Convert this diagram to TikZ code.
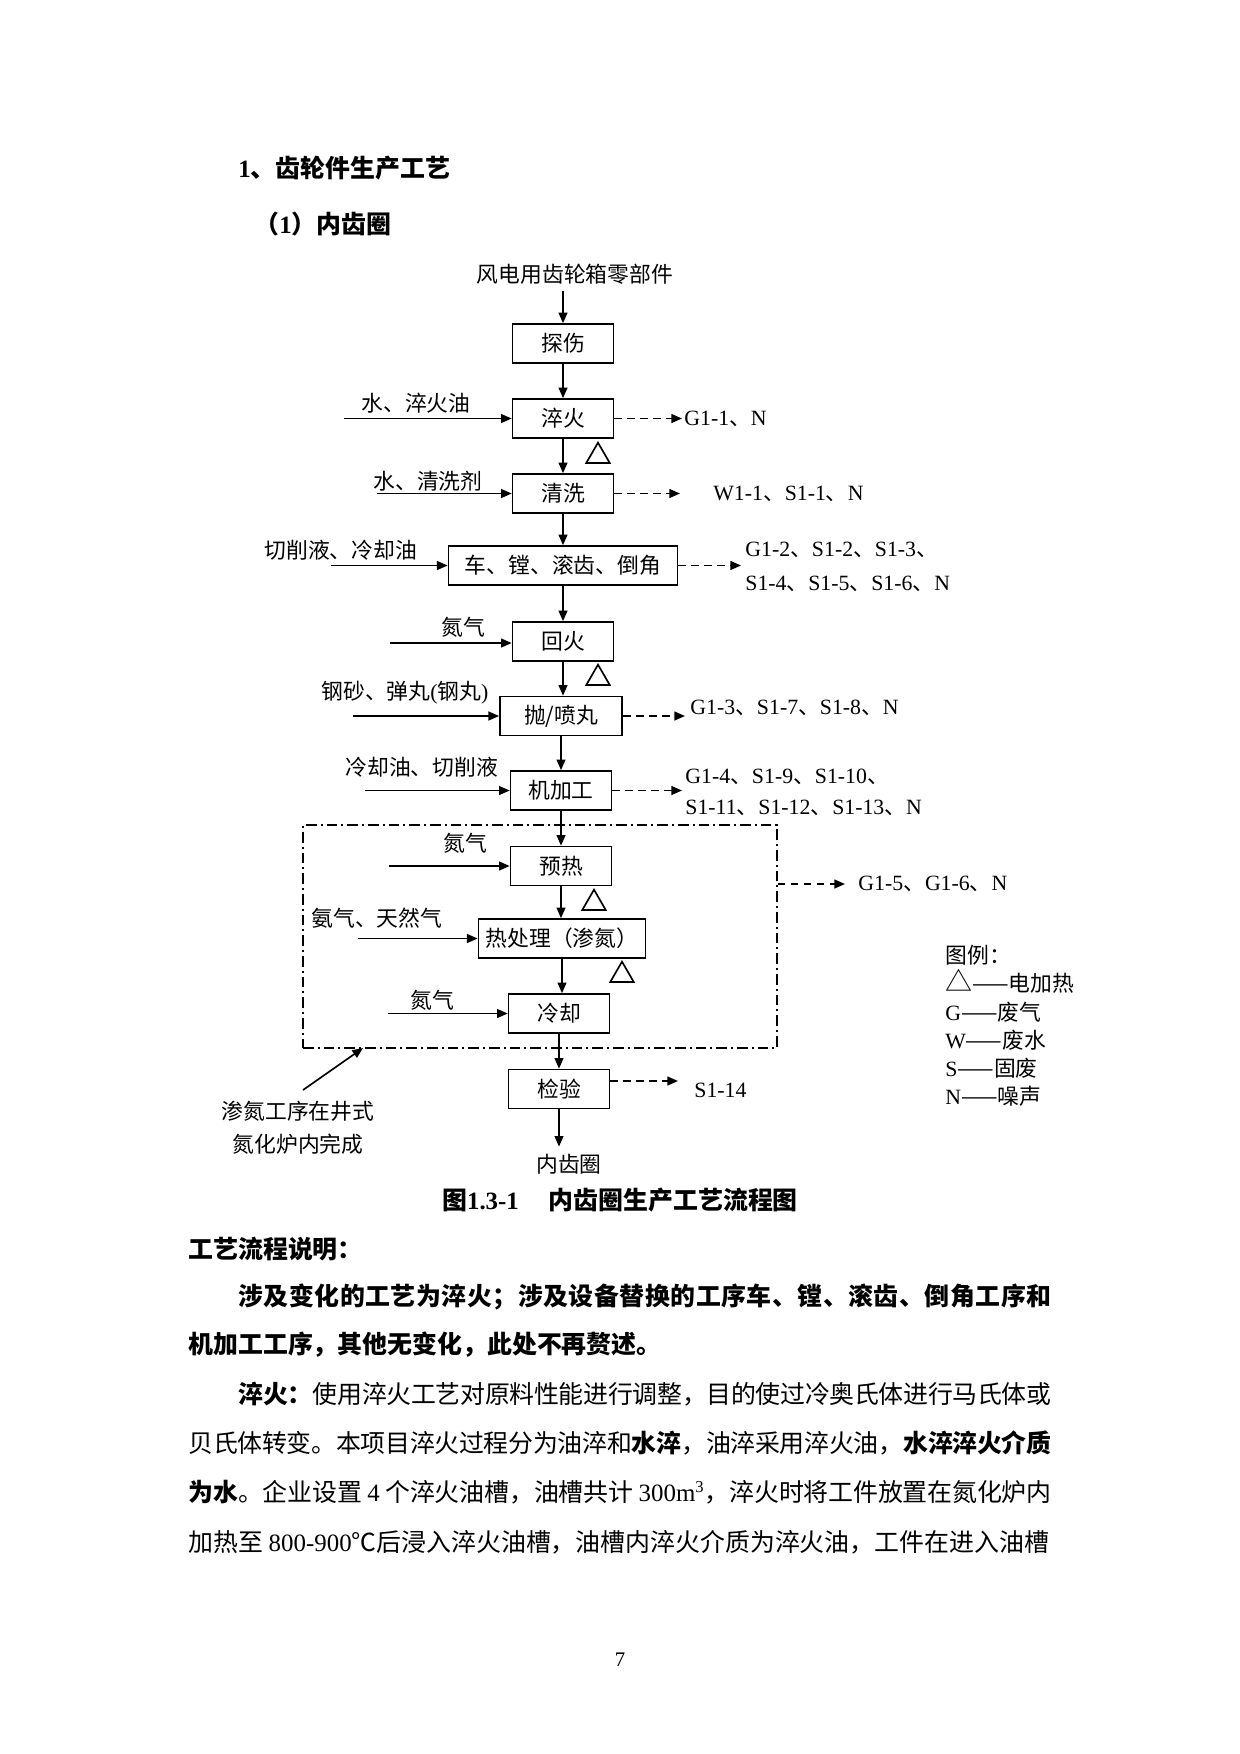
\documentclass[tikz,border=0pt]{standalone}
\usepackage{fontspec}
\setmainfont{Noto Sans CJK SC}
\newfontfamily\tmfont{Liberation Serif}
\usetikzlibrary{arrows.meta,positioning,shapes.geometric,fit}
\newcommand{\tm}[1]{{\tmfont #1}}
\newcommand{\dgmfont}{\fontsize{10.5pt}{12.6pt}\selectfont}
\newcommand{\bodyfont}{\fontsize{12pt}{14.4pt}\selectfont}
\newdimen\px \px=0.169355mm
\XeTeXlinebreaklocale "zh"
\XeTeXlinebreakskip=0pt plus 3pt minus 1.5pt
% spread the characters of a line evenly
\def\spreadline#1{\spreadfirst#1\relax}
\def\spreadfirst#1{#1\spreadrest}
\def\spreadrest#1{\ifx#1\relax\else\hskip 0pt plus 1fil #1\expandafter\spreadrest\fi}
\begin{document}
\begin{tikzpicture}[x=0.169355mm,y=-0.169355mm,
  font=\dgmfont,
  proc/.style={draw,line width=0.8pt,minimum width=17.1mm,minimum height=6.6mm,inner sep=0pt},
  lbl/.style={anchor=west,inner sep=0pt},
  heat/.style={draw,line width=0.8pt,regular polygon,regular polygon sides=3,minimum size=4.6mm,inner sep=0pt,anchor=north},
  arr/.style={-{Triangle[length=1.8mm,width=1.5mm]},line width=0.8pt},
  darr/.style={arr,dash pattern=on 1.3mm off 0.9mm},
  grp/.style={draw,line width=0.7pt,dash pattern=on 1.8mm off 0.7mm on 0.3mm off 0.7mm,inner sep=0pt},
  body/.style={anchor=west,inner sep=0pt,font=\bodyfont},
  jline/.style={body,text width=#1,align=justify}]
  \useasboundingbox (0,0) rectangle (1240,1754);
  % headings
  \node[body,font=\bfseries\bodyfont] (hd1) at (238,168) {\tm{1}、齿轮件生产工艺};
  \node[body,font=\bfseries\bodyfont] (hd2) at (254,224) {（\tm{1}）内齿圈};
  % process chain
  \node (src) at (575,274) {风电用齿轮箱零部件};
  \node[proc] (tan) at (563,343.5) {探伤};
  \node[proc] (cuh) at (563,418.5) {淬火};
  \node[proc] (qx) at (563,493.5) {清洗};
  \node[proc,minimum width=38.8mm] (cj) at (563,565.5) {车、镗、滚齿、倒角};
  \node[proc] (hh) at (563,641.5) {回火};
  \node[proc,minimum width=20.7mm] (pw) at (561,716) {抛/喷丸};
  \node[proc] (jjg) at (561,790.5) {机加工};
  \node[proc] (yr) at (561,866) {预热};
  \node[proc,minimum width=28.3mm] (rcl) at (562,938.5) {热处理（渗氮）};
  \node[proc] (lq) at (559,1013.5) {冷却};
  \node[proc] (jy) at (559,1089) {检验};
  \node (prod) at (569,1164) {内齿圈};
  \draw[arr] (tan.north |- src.south) -- (tan.north);
  \foreach \a/\b in {tan/cuh,cuh/qx,qx/cj,cj/hh,hh/pw,pw/jjg,jjg/yr,yr/rcl,rcl/lq,lq/jy}{\draw[arr] (\a.south) -- (\a.south |- \b.north);}
  \draw[arr] (jy.south) -- (jy.south |- prod.north);
  % electric heating
  \node[heat] (h1) at (598,441) {};
  \node[heat] (h2) at (598,663) {};
  \node[heat] (h3) at (594,888) {};
  \node[heat] (h4) at (622,960) {};
  % inputs
  \node[lbl] (in1) at (361,403) {水、淬火油};
  \node[lbl] (in2) at (373,481) {水、清洗剂};
  \node[lbl] (in3) at (264,550) {切削液、冷却油};
  \node[lbl] (in4) at (441,627) {氮气};
  \node[lbl] (in5) at (321,693) {钢砂、弹丸\tm{(}钢丸\tm{)}};
  \node[lbl] (in6) at (345,767) {冷却油、切削液};
  \node[lbl] (in7) at (443,843) {氮气};
  \node[lbl] (in8) at (311,918) {氨气、天然气};
  \node[lbl] (in9) at (410,1000) {氮气};
  \coordinate (s1) at (344,418.5);
  \coordinate (s2) at (377,493.5);
  \coordinate (s3) at (331,565.5);
  \coordinate (s4) at (390,643);
  \coordinate (s5) at (353,716);
  \coordinate (s6) at (365,790.5);
  \coordinate (s7) at (389,866);
  \coordinate (s8) at (358,938.5);
  \coordinate (s9) at (388,1013.5);
  \foreach \s/\n in {s1/cuh,s2/qx,s3/cj,s4/hh,s5/pw,s6/jjg,s7/yr,s8/rcl,s9/lq}{\draw[arr] (\s) -- (\s -| \n.west);}
  % furnace group
  \coordinate (g1) at (303,825);
  \coordinate (g2) at (777,1048);
  \node[grp,fit=(g1)(g2)] (grp) {};
  % outputs
  \coordinate (o1) at (682,418.5);
  \coordinate (o2) at (680,493.5);
  \coordinate (o3) at (741,565.5);
  \coordinate (o4) at (685,716);
  \coordinate (o5) at (682,790.5);
  \coordinate (o6) at (845,884);
  \coordinate (o7) at (678,1081);
  \draw[darr] (cuh.east) -- (o1);
  \draw[darr] (qx.east) -- (o2);
  \draw[darr] (cj.east) -- (o3);
  \draw[darr] (pw.east) -- (o4);
  \draw[darr] (jjg.east) -- (o5);
  \draw[darr] (grp.east |- o6) -- (o6);
  \draw[darr] (jy.east |- o7) -- (o7);
  \node[lbl] (out1) at (684,418.5) {\tm{G1-1}、\tm{N}};
  \node[lbl] (out2) at (713,493.5) {\tm{W1-1}、\tm{S1-1}、\tm{N}};
  \node[lbl,align=left,font=\fontsize{10.5pt}{16.2pt}\selectfont] (out3) at (745,567) {\tm{G1-2}、\tm{S1-2}、\tm{S1-3}、\\\tm{S1-4}、\tm{S1-5}、\tm{S1-6}、\tm{N}};
  \node[lbl] (out4) at (690,708) {\tm{G1-3}、\tm{S1-7}、\tm{S1-8}、\tm{N}};
  \node[lbl,align=left,font=\fontsize{10.5pt}{14.9pt}\selectfont] (out5) at (685,792.5) {\tm{G1-4}、\tm{S1-9}、\tm{S1-10}、\\\tm{S1-11}、\tm{S1-12}、\tm{S1-13}、\tm{N}};
  \node[lbl] (out6) at (858,884) {\tm{G1-5}、\tm{G1-6}、\tm{N}};
  \node[lbl] (out7) at (694,1090) {\tm{S1-14}};
  % note and legend
  \node[align=center,font=\fontsize{10.5pt}{15.8pt}\selectfont] (note) at (298,1127.5) {渗氮工序在井式\\氮化炉内完成};
  \coordinate (n1) at (303,1090);
  \coordinate (n2) at (363,1048);
  \draw[arr] (n1) -- (n2);
  \node[lbl,anchor=north west,align=left,font=\fontsize{10.5pt}{13.6pt}\selectfont] (leg) at (945,945) {图例：\\{\fontsize{13pt}{13.6pt}\selectfont △}——电加热\\\tm{G}——废气\\\tm{W}——废水\\\tm{S}——固废\\\tm{N}——噪声};
  % caption and text
  \node[font=\bfseries\bodyfont] (cap) at (620,1200) {图\tm{1.3-1}\hspace{1.2em}内齿圈生产工艺流程图};
  \node[body,font=\bfseries\bodyfont] (ps) at (188,1249) {工艺流程说明：};
  \node[body] (l1) at (238,1297) {\bfseries\hbox to 813\px{\spreadline{涉及变化的工艺为淬火；涉及设备替换的工序车、镗、滚齿、倒角工序和}}};
  \node[body] (l2) at (188,1345) {\bfseries 机加工工序，其他无变化，此处不再赘述。};
  \node[jline=813\px] (l3) at (238,1394) {\noindent\parfillskip=0pt\textbf{淬火：}使用淬火工艺对原料性能进行调整，目的使过冷奥氏体进行马氏体或};
  \node[jline=863\px] (l4) at (188,1443) {\noindent\parfillskip=0pt 贝氏体转变。本项目淬火过程分为油淬和\textbf{水淬}，油淬采用淬火油，\textbf{水淬淬火介质}};
  \node[jline=863\px] (l5) at (188,1492) {\noindent\parfillskip=0pt\textbf{为水}。企业设置 \tm{4} 个淬火油槽，油槽共计 \tm{300m\textsuperscript{3}}，淬火时将工件放置在氮化炉内};
  \node[jline=863\px] (l6) at (188,1542) {\noindent\parfillskip=0pt 加热至 \tm{800-900}℃后浸入淬火油槽，油槽内淬火介质为淬火油，工件在进入油槽};
  \node[font=\tmfont\fontsize{10pt}{12pt}\selectfont] (pg) at (620,1660) {7};
\end{tikzpicture}
\end{document}
